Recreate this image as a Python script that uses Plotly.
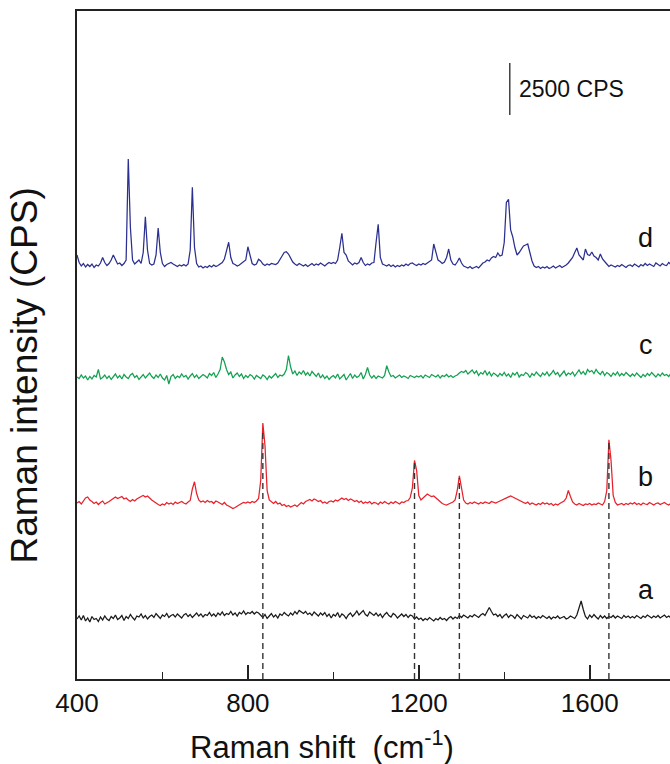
import plotly.graph_objects as go

# Raman shift sampling grid (cm-1), 5 cm-1 steps from 400 to 1795
shift = list(range(400, 1800, 5))

# Intensities (read units; 1 read unit = 1.2 CPS), relative to each trace's own baseline
spec_a = [
    -80, 40, -120, 60, -160, -40, -200, 20, -100, -60, -180, 0, -120, 40, -80, -140, 20, -60, 80, -100,
    -40, 60, -140, 20, -60, 100, -20, -120, 40, 0, 120, -40, 60, -80, 20, 80, -20, 140, 40, -60,
    80, 20, 140, -20, 60, 100, 0, 120, 40, -40, 80, 140, 20, 100, -20, 60, 160, 40, 120, 0,
    100, 60, 180, 40, 120, 20, 160, 80, 200, 60, 140, 100, 220, 80, 160, 40, 180, 120, 240, 100,
    180, 140, 220, 120, 200, 160, 60, -20, 100, -60, 40, 140, 0, 80, -40, 120, 60, 180, 100, 40,
    160, 80, 220, 120, 260, 180, 140, 220, 100, 160, 60, 200, 120, 40, 160, 80, 180, 20, 120, -40,
    100, 40, 180, -20, 120, 60, -60, 80, 160, 20, 120, 240, 80, 180, 260, 100, 40, 200, 120, 60,
    160, 40, 120, -20, 100, 180, 60, 0, 140, 80, -40, 60, 120, 20, 100, -20, 80, 40, -80, 0,
    -100, -40, -140, -60, -120, -20, -100, -160, -60, -120, -20, -100, -60, -140, -40, 20, -80, 0, -60, 60,
    -20, 80, 20, -40, 60, 0, 100, 40, -20, 80, 140, 60, 200, 380, 220, 80, 120, 20, 100, -40,
    60, 120, -20, 80, 40, -60, 100, 20, -80, 60, 0, -40, 80, -20, 40, -60, 20, -40, 60, -20,
    -60, 20, -80, 0, -40, 40, -60, -20, 20, -80, -40, 40, 0, -60, 80, 420, 640, 300, 20, -80,
    80, -20, 100, 0, -80, 60, -40, 40, -60, 20, -20, 60, -40, 40, 0, -60, 60, -20, 40, -40,
    20, -40, 60, 0, -60, 40, -20, 80, 0, -40, 40, -20, 60, -40, 20, 80, -20, 40, -40, 20,
]

spec_b = [
    0, 60, -40, 100, 200, 240, 120, 60, -20, 40, -60, 20, 80, -40, 0, 60, 120, 200, 240, 180,
    220, 260, 160, 200, 120, 60, 140, 80, 160, 220, 260, 300, 240, 280, 180, 120, 60, -20, -60, -100,
    -40, -80, 20, -40, 0, -60, 40, -20, 20, 60, 0, -40, 40, 100, 560, 850, 380, 120, 40, 80,
    20, 100, 40, 60, -20, 80, 40, 0, -60, 20, -80, -120, -160, -220, -180, -120, -60, -20, 20, 0,
    40, 0, 60, 20, 80, 180, 900, 3200, 2300, 500, 120, 40, -20, 60, -40, 0, -100, -60, -140, -100,
    -160, -120, -80, -140, -60, 20, -40, 60, 100, 140, 80, 160, 120, 60, 100, 0, 40, -20, 60, 80,
    40, 120, 80, 160, 200, 140, 180, 100, 160, 120, 60, 100, 20, 80, -20, 40, 0, 60, -40, 20,
    0, -60, 40, -20, 60, 0, -40, 40, -20, 60, 20, -40, 40, 20, 80, 100, 220, 600, 1700, 1300,
    300, 120, 200, 300, 360, 300, 260, 280, 200, 120, 60, -20, -60, -80, -40, 0, 40, 120, 500, 1090,
    600, 120, 0, -40, 20, -20, 40, 0, -40, 20, -20, 40, 0, -20, 60, 20, 0, 40, 80, 120,
    160, 200, 260, 280, 240, 200, 160, 100, 60, 20, -20, 40, -60, 0, -40, -80, -20, -60, 20, -40,
    0, -60, -20, -100, -40, -80, -20, 20, 80, 200, 500, 260, 40, -40, -80, -20, -60, -100, -40, -60,
    -20, -80, -40, -60, 0, -40, -80, 60, 500, 2530, 1700, 300, 20, -80, -40, -20, -80, -20, -60, 0,
    -40, 20, -60, -20, -80, 0, -40, -60, 20, -40, -80, -20, 0, -60, -20, 20, -40, -80, -20, -40,
]

spec_c = [
    0, -60, 80, -40, 40, -120, 20, -80, 60, 0, 300, -80, -20, 80, -60, 40, -100, 20, 120, -40,
    60, -80, 100, 0, -60, 80, 140, -20, 60, -100, 20, 100, -40, 60, 160, 20, -60, 80, -20, 120,
    -40, -120, 60, -280, 20, 100, -60, 40, -20, 120, 0, 60, -80, 40, 140, -20, 80, -60, 20, 100,
    40, -40, 140, 60, 180, -20, 120, 300, 800, 600, 300, 100, 200, -40, 80, 160, 20, 120, -60, 60,
    -20, 100, 40, -80, 60, 0, -60, 80, 20, -100, 40, -40, 60, 140, -20, 80, 40, 120, 300, 860,
    400, 120, 240, 60, 200, 120, 260, 80, 180, 40, 220, 100, 20, 160, -40, 80, -60, 40, -100, 0,
    60, -40, 120, -80, 0, 100, -120, 20, 140, -60, 80, -20, 40, 180, -80, 100, 380, 80, -40, 60,
    -60, 40, 0, -40, 60, 450, 200, 20, 60, -40, 20, 80, -20, 40, 0, -60, 60, 20, -20, 40,
    0, 60, -40, 80, 20, -20, 100, 40, 0, 80, -40, 60, 20, 100, 0, 60, -20, 40, 80, 160,
    220, 180, 260, 120, 200, 280, 140, 240, 60, 180, 120, 260, 80, 200, 40, 160, 100, 20, 140, 60,
    180, 40, 120, -20, 160, 80, 200, 0, 100, 60, 180, 120, -20, 140, 60, 200, 100, 20, 160, 80,
    200, 40, 140, 260, 100, 180, 20, 120, 240, 60, 160, 100, 200, 40, 180, 280, 120, 220, 80, 300,
    200, 260, 140, 300, 180, 100, 240, 60, 180, 120, 20, 160, 80, 200, 40, 140, 60, 180, 100, 20,
    120, 40, 160, 60, -20, 100, 20, 140, 60, 180, 80, 0, 120, 40, 160, 60, 100, 20, 140, 80,
]

spec_d = [
    400, 100, -40, 60, -80, 20, -60, 40, -100, 0, -40, 80, 300, 100, -20, 60, 200, 400, 220, 40,
    80, -20, 60, 200, 4240, 1500, 200, 40, 120, 200, 60, 500, 1930, 600, 60, 0, 40, 400, 1480, 500,
    60, -60, 20, 60, 100, 40, -20, -60, 0, -40, 20, -40, 40, 600, 3110, 700, 60, -80, -40, -120,
    -60, -100, -20, -80, 0, -60, -20, 40, 100, 240, 600, 910, 300, 60, 20, -40, 0, 60, 120, 200,
    730, 400, 60, 0, 40, 230, 160, 40, -20, 40, 0, 60, 40, 20, 80, 200, 360, 500, 530, 440,
    260, 120, 40, -20, 60, 0, -40, 20, -60, 0, 60, -20, 40, 0, 80, 20, -40, 40, 100, 60,
    100, 60, 200, 700, 1270, 500, 400, 160, 60, 0, 80, 40, 100, 300, 100, -20, 40, 0, 80, 100,
    900, 1630, 300, 40, 0, -40, 20, -60, 0, -80, -20, -60, 0, -40, 40, -20, 60, 80, 20, -20,
    40, 0, 60, 20, 80, 140, 200, 840, 500, 200, 140, 60, 120, 300, 640, 200, 40, 0, 120, 280,
    80, -40, -80, -120, -60, -140, -100, -60, -120, -20, 80, 120, 200, 160, 280, 340, 300, 480, 360, 400,
    900, 2500, 2630, 1400, 1120, 700, 400, 500, 640, 760, 800, 840, 500, 160, -40, -100, -60, -140, -80, -120,
    -60, -140, -100, -40, -120, -80, -20, -100, -60, 0, 80, 200, 300, 500, 680, 400, 300, 200, 640, 420,
    380, 520, 360, 300, 200, 440, 240, 120, 40, -60, 0, -40, -80, -20, -60, 20, -40, -100, -20, 0,
    -60, 40, -20, -80, 20, -40, 60, -20, 40, 0, -60, 80, 20, -40, 60, 0, -20, 100, 20, 60,
]

READ_TO_CPS = 1.2
# Vertical stacking offsets of the four spectra (CPS)
offsets = {"a": 2976, "b": 8448, "c": 14496, "d": 19872}
colors = {"a": "#1a1a1a", "b": "#e8202a", "c": "#12a150", "d": "#2b2f8f"}
series = {"a": spec_a, "b": spec_b, "c": spec_c, "d": spec_d}

# Marked band positions (cm-1) and top of the dashed guides (CPS)
guide_x = [835, 1190, 1295, 1645]
guide_top = [11856, 10368, 9648, 11328]

# Curve labels (x in cm-1, y in CPS)
label_x = 1731
label_y = {"a": 4272, "b": 9696, "c": 16032, "d": 21168}

# Scale bar
bar_x = 1413
bar_y0, bar_y1 = 27072, 29568
bar_text = "2500 CPS"

x_title = "Raman shift  (cm<sup>-1</sup>)"
y_title = "Raman intensity (CPS)"

X_RANGE = [400, 1788]
Y_RANGE = [0, 32064]

fig = go.Figure()
for key in ["d", "c", "b", "a"]:
    vals = series[key]
    ys = [offsets[key] + v * READ_TO_CPS for v in vals]
    fig.add_trace(go.Scatter(x=shift[:len(ys)], y=ys, mode="lines",
                             line=dict(color=colors[key], width=1.25),
                             hoverinfo="skip", showlegend=False))

for gx, gt in zip(guide_x, guide_top):
    fig.add_trace(go.Scatter(x=[gx, gx], y=[0, gt], mode="lines",
                             line=dict(color="#333333", width=1.4, dash="6px,4px"),
                             hoverinfo="skip", showlegend=False))

fig.add_trace(go.Scatter(x=[bar_x, bar_x], y=[bar_y0, bar_y1], mode="lines",
                         line=dict(color="#333333", width=1.4),
                         hoverinfo="skip", showlegend=False))

font_family = "Liberation Sans, Arial, sans-serif"
annotations = [
    dict(x=bar_x + 16, y=(bar_y0 + bar_y1) / 2, text=bar_text, showarrow=False,
         xanchor="left", yanchor="middle", font=dict(size=23, color="#111111", family=font_family)),
]
for key in ["a", "b", "c", "d"]:
    annotations.append(dict(x=label_x, y=label_y[key], text=key, showarrow=False,
                            xanchor="center", yanchor="middle",
                            font=dict(size=27, color="#111111", family=font_family)))
annotations.append(dict(x=0.413, y=-0.099, xref="paper", yref="paper", text=x_title,
                        showarrow=False, xanchor="center", yanchor="middle",
                        font=dict(size=31, color="#111111", family=font_family)))
annotations.append(dict(x=-0.088, y=0.454, xref="paper", yref="paper", text=y_title,
                        showarrow=False, xanchor="center", yanchor="middle", textangle=-90,
                        font=dict(size=37, color="#111111", family=font_family)))

fig.update_layout(
    width=670, height=764,
    margin=dict(l=77, r=0, t=11, b=85),
    paper_bgcolor="white", plot_bgcolor="white",
    font=dict(family=font_family, color="#111111"),
    annotations=annotations,
    xaxis=dict(range=X_RANGE, showgrid=False, zeroline=False,
               showline=True, linecolor="#222222", linewidth=1.5, mirror=True,
               ticks="inside", ticklen=14, tickwidth=1.5, tickcolor="#222222",
               tick0=400, dtick=400, tickfont=dict(size=26, color="#111111"),
               minor=dict(ticks="inside", ticklen=7, tickwidth=1.2, tickcolor="#222222", dtick=200)),
    yaxis=dict(range=Y_RANGE, showgrid=False, zeroline=False, showticklabels=False,
               showline=True, linecolor="#222222", linewidth=1.5, ticks=""),
)

fig.write_html("out.html")
